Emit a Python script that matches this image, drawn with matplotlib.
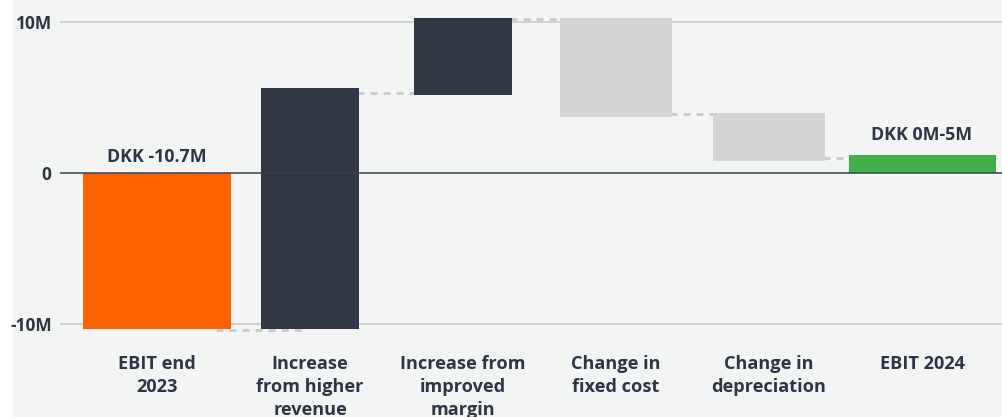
import matplotlib
matplotlib.use("Agg")
import numpy as np
from matplotlib import pyplot as plt
from matplotlib.patches import Rectangle

# data (DKK million)
categories = ["EBIT end\n2023", "Increase\nfrom higher\nrevenue", "Increase from\nimproved\nmargin",
              "Change in\nfixed cost", "Change in\ndepreciation", "EBIT 2024"]
bar_bottom = [0.0, -10.3, 5.2, 3.7, 0.8, 0.0]
bar_top = [-10.3, 5.6, 10.3, 10.3, 4.0, 1.2]
connector_level = [-10.4, 5.3, 10.2, 3.9, 1.0]
bar_text = {0: "DKK -10.7M", 5: "DKK 0M-5M"}
y_ticks = [-10, 0, 10]
y_labels = ["-10M", "0", "10M"]

bg = "#f3f4f4"
txt = "#2f3545"
colors = ["#ff6200", "#313745", "#313745", "#d4d4d4", "#d4d4d4", "#43ae4a"]
widths = [0.97, 0.64, 0.64, 0.73, 0.73, 0.96]

plt.rcParams['font.family'] = ['Open Sans', 'DejaVu Sans']

fig = plt.figure(figsize=(10.03, 4.17), dpi=100, facecolor=bg)
fig.patches.append(Rectangle((0, 0), 13 / 1003, 1, transform=fig.transFigure,
                             facecolor="white", edgecolor="none", zorder=-1))

ax = fig.add_axes([60 / 1003, 1 - 340 / 417, 943 / 1003, 340 / 417])
ax.set_facecolor(bg)

x = np.arange(len(categories))
heights = np.array(bar_top) - np.array(bar_bottom)
ax.bar(x, heights, bottom=bar_bottom, width=widths, color=colors, zorder=3)

# dashed connectors between bars
for i, lvl in enumerate(connector_level):
    x0 = x[i] + widths[i] / 2 - 0.1
    x1 = x[i + 1] - widths[i + 1] / 2 + 0.3
    ax.plot([x0, x1], [lvl, lvl], color="#c9c9c9", lw=2, dashes=(2.5, 2.2),
            solid_capstyle="butt", zorder=2)

for i, t in bar_text.items():
    top = max(bar_top[i], bar_bottom[i])
    ax.annotate(t, (x[i], top), xytext=(0, 8 if i == 0 else 11), textcoords="offset points",
                ha="center", va="baseline", fontsize=12.8, fontweight="bold", color=txt, zorder=4)

# grid lines
for v in y_ticks:
    if v == 0:
        ax.axhline(0, color="#3b4050", lw=1.1, zorder=4)
    else:
        ax.axhline(v, color="#cfcfcf", lw=1.4, zorder=1)

ax.set_xlim(-0.634, 5.529)
ax.set_ylim(-11.06, 11.46)
ax.set_yticks(y_ticks)
ax.set_yticklabels(y_labels, fontsize=12.5, fontweight="bold", color=txt)
ax.set_xticks(x)
ax.set_xticklabels(categories, fontsize=13.1, fontweight="bold", color=txt, linespacing=1.33)
ax.tick_params(axis="both", length=0)
ax.tick_params(axis="y", pad=6)
ax.tick_params(axis="x", pad=11)
for s in ax.spines.values():
    s.set_visible(False)

fig.savefig("out.png", dpi=100, facecolor=bg)
